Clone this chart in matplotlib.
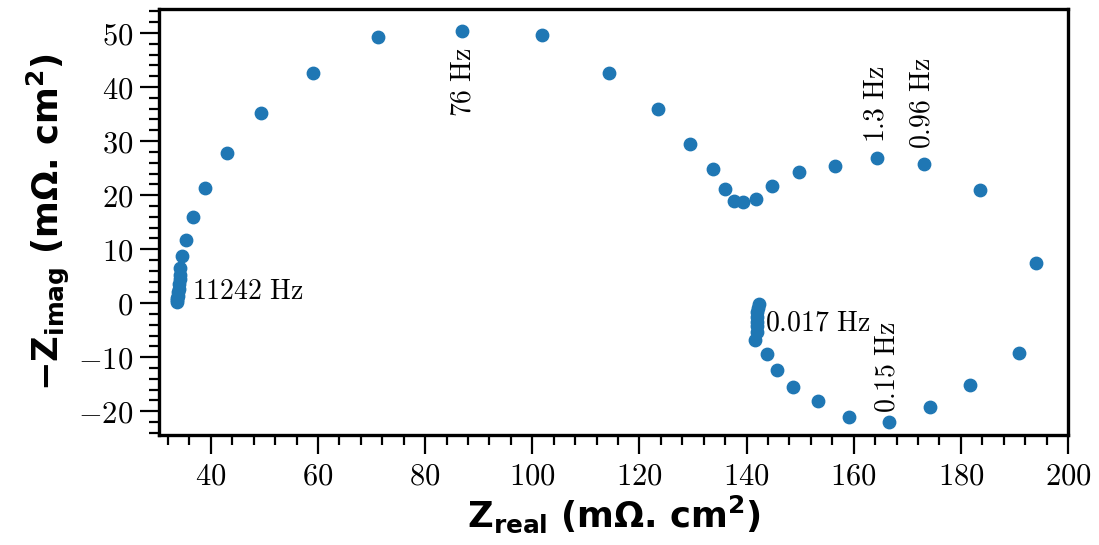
import numpy as np
import matplotlib
matplotlib.use('Agg')
import matplotlib.pyplot as plt
from matplotlib.ticker import MultipleLocator, AutoMinorLocator, FuncFormatter

plt.rcParams['mathtext.fontset'] = 'cm'

# impedance data (mOhm.cm2)
z_real = [33.65, 33.7, 33.75, 33.8, 33.9, 34.0, 34.1, 34.2, 34.3,
          34.2, 34.6, 35.3, 36.6, 38.9, 43.0, 49.3, 59.0, 71.2, 86.9,
          101.8, 114.3, 123.5, 129.4, 133.7, 136.0, 137.6, 139.3, 141.8,
          144.7, 149.8, 156.5, 164.3, 173.1, 183.6, 194.0, 190.9, 181.7,
          174.2, 166.6, 159.1, 153.3, 148.7, 145.7, 143.8, 141.6,
          141.9, 141.9, 141.9, 141.9, 142.0, 142.1, 142.3]
z_imag = [0.2, 0.6, 0.9, 1.4, 2.0, 2.7, 3.5, 4.4, 5.2,
          6.5, 8.7, 11.7, 15.9, 21.3, 27.8, 35.2, 42.6, 49.3, 50.4,
          49.7, 42.6, 35.9, 29.4, 24.8, 21.1, 18.9, 18.7, 19.3,
          21.7, 24.3, 25.4, 26.85, 25.7, 20.9, 7.4, -9.3, -15.2,
          -19.3, -22.0, -21.1, -18.1, -15.6, -12.4, -9.4, -6.85,
          -5.3, -4.3, -3.4, -2.5, -1.6, -0.8, -0.1]

# frequency labels: text, x, y, rotation, ha, va
labels = [('76', 86.9, 47.4, 90, 'center', 'top'),
          ('11242', 36.5, 2.3, 0, 'left', 'center'),
          ('0.017', 143.4, -3.6, 0, 'left', 'center'),
          ('0.15', 166.2, -20.3, 90, 'center', 'bottom'),
          ('1.3', 164.0, 29.7, 90, 'center', 'bottom'),
          ('0.96', 172.7, 28.6, 90, 'center', 'bottom')]

fig = plt.figure(figsize=(10.99, 5.45), dpi=100)
ax = fig.add_axes([0.1451, 0.2018, 0.8267, 0.7812])

ax.scatter(z_real, z_imag, s=80, color='#1f77b4', zorder=3)

for txt, x, y, rot, ha, va in labels:
    ax.text(x, y, r'$%s\ \mathrm{Hz}$' % txt, rotation=rot,
            ha=ha, va=va, fontsize=20)

ax.set_xlim(30.4, 200)
ax.set_ylim(-24.4, 54.4)
ax.xaxis.set_major_locator(MultipleLocator(20))
ax.yaxis.set_major_locator(MultipleLocator(10))
ax.xaxis.set_minor_locator(AutoMinorLocator(5))
ax.yaxis.set_minor_locator(AutoMinorLocator(5))
fmt = FuncFormatter(lambda v, p: r'$%g$' % v)
ax.xaxis.set_major_formatter(fmt)
ax.yaxis.set_major_formatter(fmt)

ax.tick_params(which='major', length=14, width=1.6, labelsize=22, pad=5)
ax.tick_params(which='minor', length=7, width=1.6)
for s in ax.spines.values():
    s.set_linewidth(2.4)

ax.set_xlabel(r'$\mathbf{Z_{real}}$ (mΩ. cm$^\mathbf{2}$)', fontsize=25.5,
              fontweight='bold', labelpad=2)
ax.set_ylabel(r'$\mathbf{-Z_{imag}}$ (mΩ. cm$^\mathbf{2}$)', fontsize=25.5,
              fontweight='bold', labelpad=4)
for lab in (ax.xaxis.label, ax.yaxis.label):
    lab.set_math_fontfamily('dejavusans')

fig.savefig('out.png', dpi=100)
